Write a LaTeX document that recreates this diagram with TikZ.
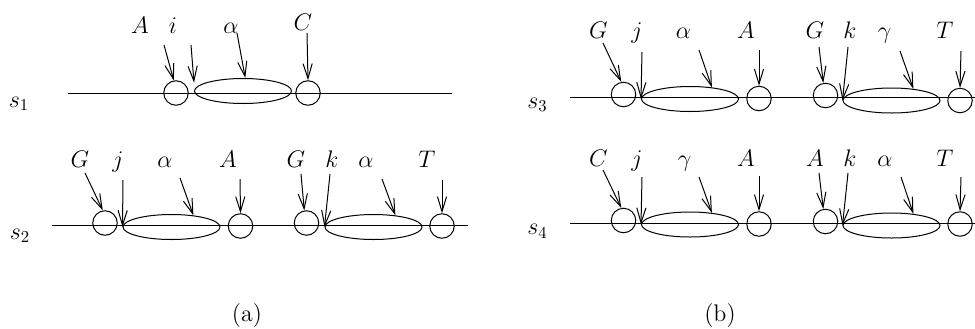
\documentclass[tikz,border=0pt]{standalone}
\usetikzlibrary{arrows.meta,shapes.geometric}

\begin{document}
\begin{tikzpicture}[
  x=0.6pt, y=-0.6pt,
  line width=0.6pt,
  font=\Large,
  dot/.style={circle,draw,minimum size=14.7pt,inner sep=0pt},
  blob/.style={ellipse,draw,minimum width=58.2pt,minimum height=15pt,inner sep=0pt},
  tag/.style={anchor=base,inner sep=0pt},
  ptr/.style={-{Straight Barb[length=9pt,width=5.5pt]}}
]
  \useasboundingbox (0,0) rectangle (975,328);

  % (a), first row
  \node (s1) at (19,104) {$s_1$};
  \coordinate (s1l) at (68,93);
  \coordinate (s1r) at (452,93);
  \draw (s1l) -- (s1r);
  \node[dot] (s1p1) at (176,93) {};
  \node[blob] (s1e1) at (243,91) {};
  \node[dot] (s1p2) at (308,93) {};
  \node[tag] (s1a) at (140,33) {$A$};
  \node[tag] (s1b) at (173,33) {$i$};
  \node[tag] (s1c) at (231,33) {$\alpha$};
  \node[tag] (s1d) at (303,30) {$C$};
  \coordinate (s1ta) at (164,45);
  \coordinate (s1tb) at (191,45);
  \coordinate (s1tc) at (237,33);
  \coordinate (s1td) at (307,33);
  \draw[ptr] (s1ta) -- (s1p1.100);
  \draw[ptr] (s1tb) -- ([yshift=5pt]s1e1.west);
  \draw[ptr] (s1tc) -- (s1e1.80);
  \draw[ptr] (s1td) -- (s1p2.north);

  % (a), second row
  \node (s2) at (20,236) {$s_2$};
  \coordinate (s2l) at (52,225);
  \coordinate (s2r) at (468,225);
  \draw (s2l) -- (s2r);
  \node[dot] (s2p1) at (105,223) {};
  \node[blob] (s2e1) at (171.5,227) {};
  \node[dot] (s2p2) at (240.5,226) {};
  \node[dot] (s2p3) at (306.5,223) {};
  \node[blob] (s2e2) at (373.5,227) {};
  \node[dot] (s2p4) at (442,226) {};
  \node[tag] (s2a) at (80,167) {$G$};
  \node[tag] (s2b) at (118,167) {$j$};
  \node[tag] (s2c) at (165,167) {$\alpha$};
  \node[tag] (s2d) at (228,167) {$A$};
  \node[tag] (s2e) at (296,167) {$G$};
  \node[tag] (s2f) at (332,167) {$k$};
  \node[tag] (s2g) at (366,167) {$\alpha$};
  \node[tag] (s2h) at (427,167) {$T$};
  \coordinate (s2ta) at (85,173);
  \coordinate (s2tb) at (123,180);
  \coordinate (s2tc) at (180,178);
  \coordinate (s2td) at (240,179);
  \coordinate (s2te) at (301,174);
  \coordinate (s2tf) at (330,174);
  \coordinate (s2tg) at (382,179);
  \coordinate (s2th) at (442,180);
  \draw[ptr] (s2ta) -- (s2p1.100);
  \draw[ptr] (s2tb) -- (s2e1.west);
  \draw[ptr] (s2tc) -- (s2e1.28);
  \draw[ptr] (s2td) -- (s2p2.north);
  \draw[ptr] (s2te) -- (s2p3.100);
  \draw[ptr] (s2tf) -- (s2e2.west);
  \draw[ptr] (s2tg) -- (s2e2.28);
  \draw[ptr] (s2th) -- (s2p4.north);

  % (b), first row
  \node (s3) at (537.5,105) {$s_3$};
  \coordinate (s3l) at (570,97);
  \coordinate (s3r) at (975,97);
  \draw (s3l) -- (s3r);
  \node[dot] (s3p1) at (623.5,94.5) {};
  \node[blob] (s3e1) at (690,99) {};
  \node[dot] (s3p2) at (759,98.5) {};
  \node[dot] (s3p3) at (825.5,95.5) {};
  \node[blob] (s3e2) at (891.5,100.5) {};
  \node[dot] (s3p4) at (960,100.5) {};
  \node[tag] (s3a) at (598.5,38) {$G$};
  \node[tag] (s3b) at (637,38) {$j$};
  \node[tag] (s3c) at (683.5,38) {$\alpha$};
  \node[tag] (s3d) at (746,38) {$A$};
  \node[tag] (s3e) at (815,38) {$G$};
  \node[tag] (s3f) at (850,38) {$k$};
  \node[tag] (s3g) at (884.5,38) {$\gamma$};
  \node[tag] (s3h) at (945,38) {$T$};
  \coordinate (s3ta) at (603,43);
  \coordinate (s3tb) at (642,52);
  \coordinate (s3tc) at (699,50);
  \coordinate (s3td) at (759,50);
  \coordinate (s3te) at (819,47);
  \coordinate (s3tf) at (848,47);
  \coordinate (s3tg) at (900,51);
  \coordinate (s3th) at (961,51);
  \draw[ptr] (s3ta) -- (s3p1.100);
  \draw[ptr] (s3tb) -- (s3e1.west);
  \draw[ptr] (s3tc) -- (s3e1.28);
  \draw[ptr] (s3td) -- (s3p2.north);
  \draw[ptr] (s3te) -- (s3p3.100);
  \draw[ptr] (s3tf) -- (s3e2.west);
  \draw[ptr] (s3tg) -- (s3e2.28);
  \draw[ptr] (s3th) -- (s3p4.north);

  % (b), second row
  \node (s4) at (537.5,231.5) {$s_4$};
  \coordinate (s4l) at (570,223);
  \coordinate (s4r) at (975,223);
  \draw (s4l) -- (s4r);
  \node[dot] (s4p1) at (623.5,220.5) {};
  \node[blob] (s4e1) at (690,224.5) {};
  \node[dot] (s4p2) at (759,224) {};
  \node[dot] (s4p3) at (825.5,221.5) {};
  \node[blob] (s4e2) at (891.5,225.5) {};
  \node[dot] (s4p4) at (960,224) {};
  \node[tag] (s4a) at (598.5,166) {$C$};
  \node[tag] (s4b) at (637,166) {$j$};
  \node[tag] (s4c) at (684.5,166) {$\gamma$};
  \node[tag] (s4d) at (746,166) {$A$};
  \node[tag] (s4e) at (815,166) {$A$};
  \node[tag] (s4f) at (850,166) {$k$};
  \node[tag] (s4g) at (885,166) {$\alpha$};
  \node[tag] (s4h) at (945,166) {$T$};
  \coordinate (s4ta) at (603,170);
  \coordinate (s4tb) at (642,177);
  \coordinate (s4tc) at (699,177);
  \coordinate (s4td) at (759,176);
  \coordinate (s4te) at (819,173);
  \coordinate (s4tf) at (848,173);
  \coordinate (s4tg) at (901,177);
  \coordinate (s4th) at (961,177);
  \draw[ptr] (s4ta) -- (s4p1.100);
  \draw[ptr] (s4tb) -- (s4e1.west);
  \draw[ptr] (s4tc) -- (s4e1.28);
  \draw[ptr] (s4td) -- (s4p2.north);
  \draw[ptr] (s4te) -- (s4p3.100);
  \draw[ptr] (s4tf) -- (s4e2.west);
  \draw[ptr] (s4tg) -- (s4e2.28);
  \draw[ptr] (s4th) -- (s4p4.north);

  % captions
  \node (capa) at (247,316) {(a)};
  \node (capb) at (720,316) {(b)};
\end{tikzpicture}
\end{document}
